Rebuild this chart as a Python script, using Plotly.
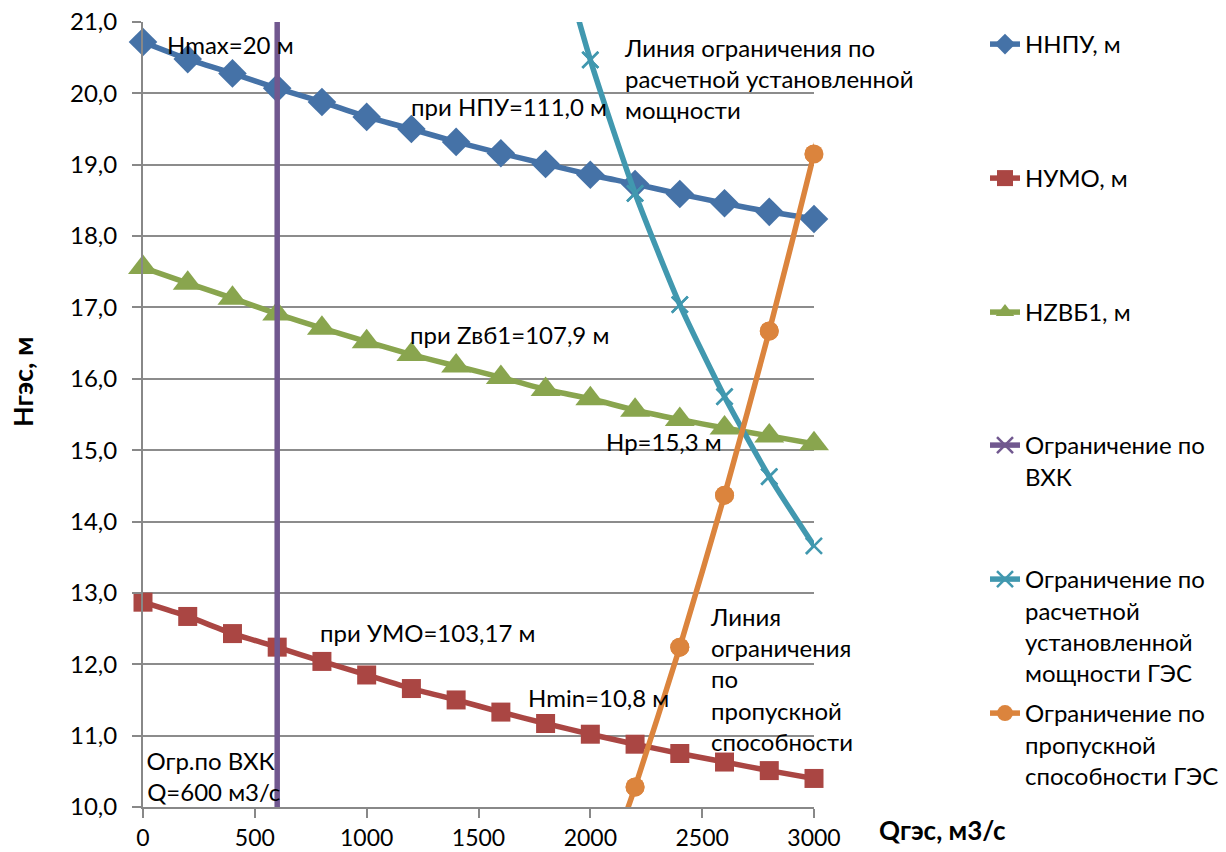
import plotly.graph_objects as go

# Расход ГЭС, м3/с
q = [0, 200, 400, 600, 800, 1000, 1200, 1400, 1600, 1800, 2000, 2200, 2400, 2600, 2800, 3000]

# Напор при НПУ, УМО и при отметке Zвб1
h_npu = [20.72, 20.48, 20.28, 20.07, 19.88, 19.67, 19.50, 19.32, 19.16, 19.01, 18.86, 18.73, 18.59, 18.46, 18.34, 18.24]
h_umo = [12.87, 12.67, 12.43, 12.24, 12.04, 11.85, 11.66, 11.50, 11.33, 11.17, 11.02, 10.88, 10.75, 10.63, 10.51, 10.40]
h_zvb1 = [17.56, 17.34, 17.13, 16.91, 16.71, 16.52, 16.34, 16.18, 16.02, 15.85, 15.72, 15.56, 15.43, 15.31, 15.20, 15.09]

# Ограничение по ВХК (Q = 600 м3/с)
q_vhk = [600, 600]
h_vhk = [9.0, 22.0]

# Ограничение по расчетной установленной мощности
q_power = [1800, 2000, 2200, 2400, 2600, 2800, 3000]
h_power = [22.7, 20.47, 18.60, 17.04, 15.75, 14.63, 13.66]

# Ограничение по пропускной способности
q_capacity = [2000, 2200, 2400, 2600, 2800, 3000, 3200]
h_capacity = [8.5, 10.28, 12.24, 14.37, 16.67, 19.15, 21.8]

FONT = "Lato"
TXT = 24
Q_MIN, Q_MAX = 0, 3000
H_MIN, H_MAX = 10, 21

series = [
    ("ННПУ, м", q, h_npu, "#4572A7", "diamond", 22, "legend", 42),
    ("НУМО, м", q, h_umo, "#AA4643", "square", 19, "legend2", 176),
    ("HZВБ1, м", q, h_zvb1, "#89A54E", "triangle-up", 26, "legend3", 310),
    ("Ограничение по<br>ВХК", q_vhk, h_vhk, "#71588F", "x-thin-open", 16, "legend4", 443),
    ("Ограничение по<br>расчетной<br>установленной<br>мощности ГЭС", q_power, h_power, "#4198AF", "x-thin-open", 16, "legend5", 577),
    ("Ограничение по<br>пропускной<br>способности ГЭС", q_capacity, h_capacity, "#DB843D", "circle", 19, "legend6", 711),
]

L, R, T, B = 143, 412, 22, 45
W, H = 1226, 852
pw, ph = W - L - R, H - T - B

fig = go.Figure()
layout_legends = {}
for name, xs, ys, color, sym, size, leg, ypx in series:
    is_x = sym.startswith("x")
    marker = dict(symbol=sym, size=size, color=color,
                  line=dict(color=color, width=2.5 if is_x else 0))
    in_range = [(a, b) for a, b in zip(xs, ys) if Q_MIN <= a <= Q_MAX and H_MIN <= b <= H_MAX]
    all_inside = len(in_range) == len(xs)
    fig.add_trace(go.Scatter(
        x=xs, y=ys, name=name, mode="lines+markers",
        line=dict(color=color, width=5.5, shape="spline", smoothing=0.6),
        marker=marker, legend=leg, cliponaxis=not all_inside,
    ))
    if not all_inside and in_range:
        # точки внутри области построения рисуются без обрезки по краям осей
        fig.add_trace(go.Scatter(
            x=[p[0] for p in in_range], y=[p[1] for p in in_range],
            mode="markers", marker=marker, showlegend=False,
            cliponaxis=False, hoverinfo="skip",
        ))
    layout_legends[leg] = dict(
        x=(985 - L) / pw, y=(H - B - (ypx - 20)) / ph,
        xanchor="left", yanchor="top",
        bgcolor="rgba(0,0,0,0)", borderwidth=0,
        font=dict(family=FONT, size=TXT, color="#000000"),
        valign="top", itemwidth=30, tracegroupgap=0,
    )

notes = [
    (98, 20.69, "Hmax=20 м", "left"),
    (1190, 19.81, "при НПУ=111,0 м", "left"),
    (1185, 16.62, "при Zвб1=107,9 м", "left"),
    (2598, 15.12, "Hp=15,3 м", "right"),
    (783, 12.45, "при УМО=103,17 м", "left"),
    (1713, 11.54, "Hmin=10,8 м", "left"),
]
annotations = []
for xv, yv, text, anchor in notes:
    annotations.append(dict(x=xv, y=yv, xref="x", yref="y", text=text,
                            showarrow=False, xanchor=anchor, yanchor="middle",
                            font=dict(family=FONT, size=TXT, color="#000000")))

annotations += [
    dict(x=2142, y=20.88, xref="x", yref="y",
         text="Линия ограничения по<br>расчетной установленной<br>мощности",
         showarrow=False, xanchor="left", yanchor="top", align="left",
         font=dict(family=FONT, size=TXT, color="#000000")),
    dict(x=2524, y=12.9, xref="x", yref="y",
         text="Линия<br>ограничения<br>по<br>пропускной<br>способности",
         showarrow=False, xanchor="left", yanchor="top", align="left",
         font=dict(family=FONT, size=TXT, color="#000000")),
    dict(x=300, y=10.88, xref="x", yref="y",
         text="Огр.по ВХК<br> Q=600 м3/с",
         showarrow=False, xanchor="center", yanchor="top", align="center",
         font=dict(family=FONT, size=TXT, color="#000000")),
    dict(x=(877 - L) / pw, y=(H - B - 830) / ph, xref="paper", yref="paper",
         text="<b>Qгэс, м3/с</b>", showarrow=False, xanchor="left", yanchor="middle",
         font=dict(family=FONT, size=26, color="#000000")),
    dict(x=(22 - L) / pw, y=(H - B - 382) / ph, xref="paper", yref="paper",
         text="<b>Нгэс, м</b>", showarrow=False, textangle=-90,
         xanchor="center", yanchor="middle",
         font=dict(family=FONT, size=27, color="#000000")),
]

fig.update_layout(
    width=W, height=H,
    margin=dict(l=L, r=R, t=T, b=B, pad=0, autoexpand=False),
    paper_bgcolor="white", plot_bgcolor="white",
    separators=", ",
    showlegend=True,
    annotations=annotations,
    font=dict(family=FONT, size=TXT, color="#000000"),
    xaxis=dict(range=[Q_MIN, Q_MAX], tickvals=[0, 500, 1000, 1500, 2000, 2500, 3000],
               tickformat="d", showgrid=False, zeroline=False, automargin=False,
               showline=True, linecolor="#888888", linewidth=2,
               ticks="outside", ticklen=9, tickcolor="#888888", tickwidth=2,
               ticklabelstandoff=0,
               tickfont=dict(family=FONT, size=23, color="#000000")),
    yaxis=dict(range=[H_MIN, H_MAX], dtick=1, tickformat=".1f", automargin=False,
               showgrid=True, gridcolor="#8c8c8c", gridwidth=2, zeroline=False,
               showline=True, linecolor="#888888", linewidth=2,
               ticks="outside", ticklen=9, tickcolor="#888888", tickwidth=2,
               ticklabelstandoff=10,
               tickfont=dict(family=FONT, size=TXT, color="#000000")),
    **layout_legends,
)

fig.write_html("out.html")
